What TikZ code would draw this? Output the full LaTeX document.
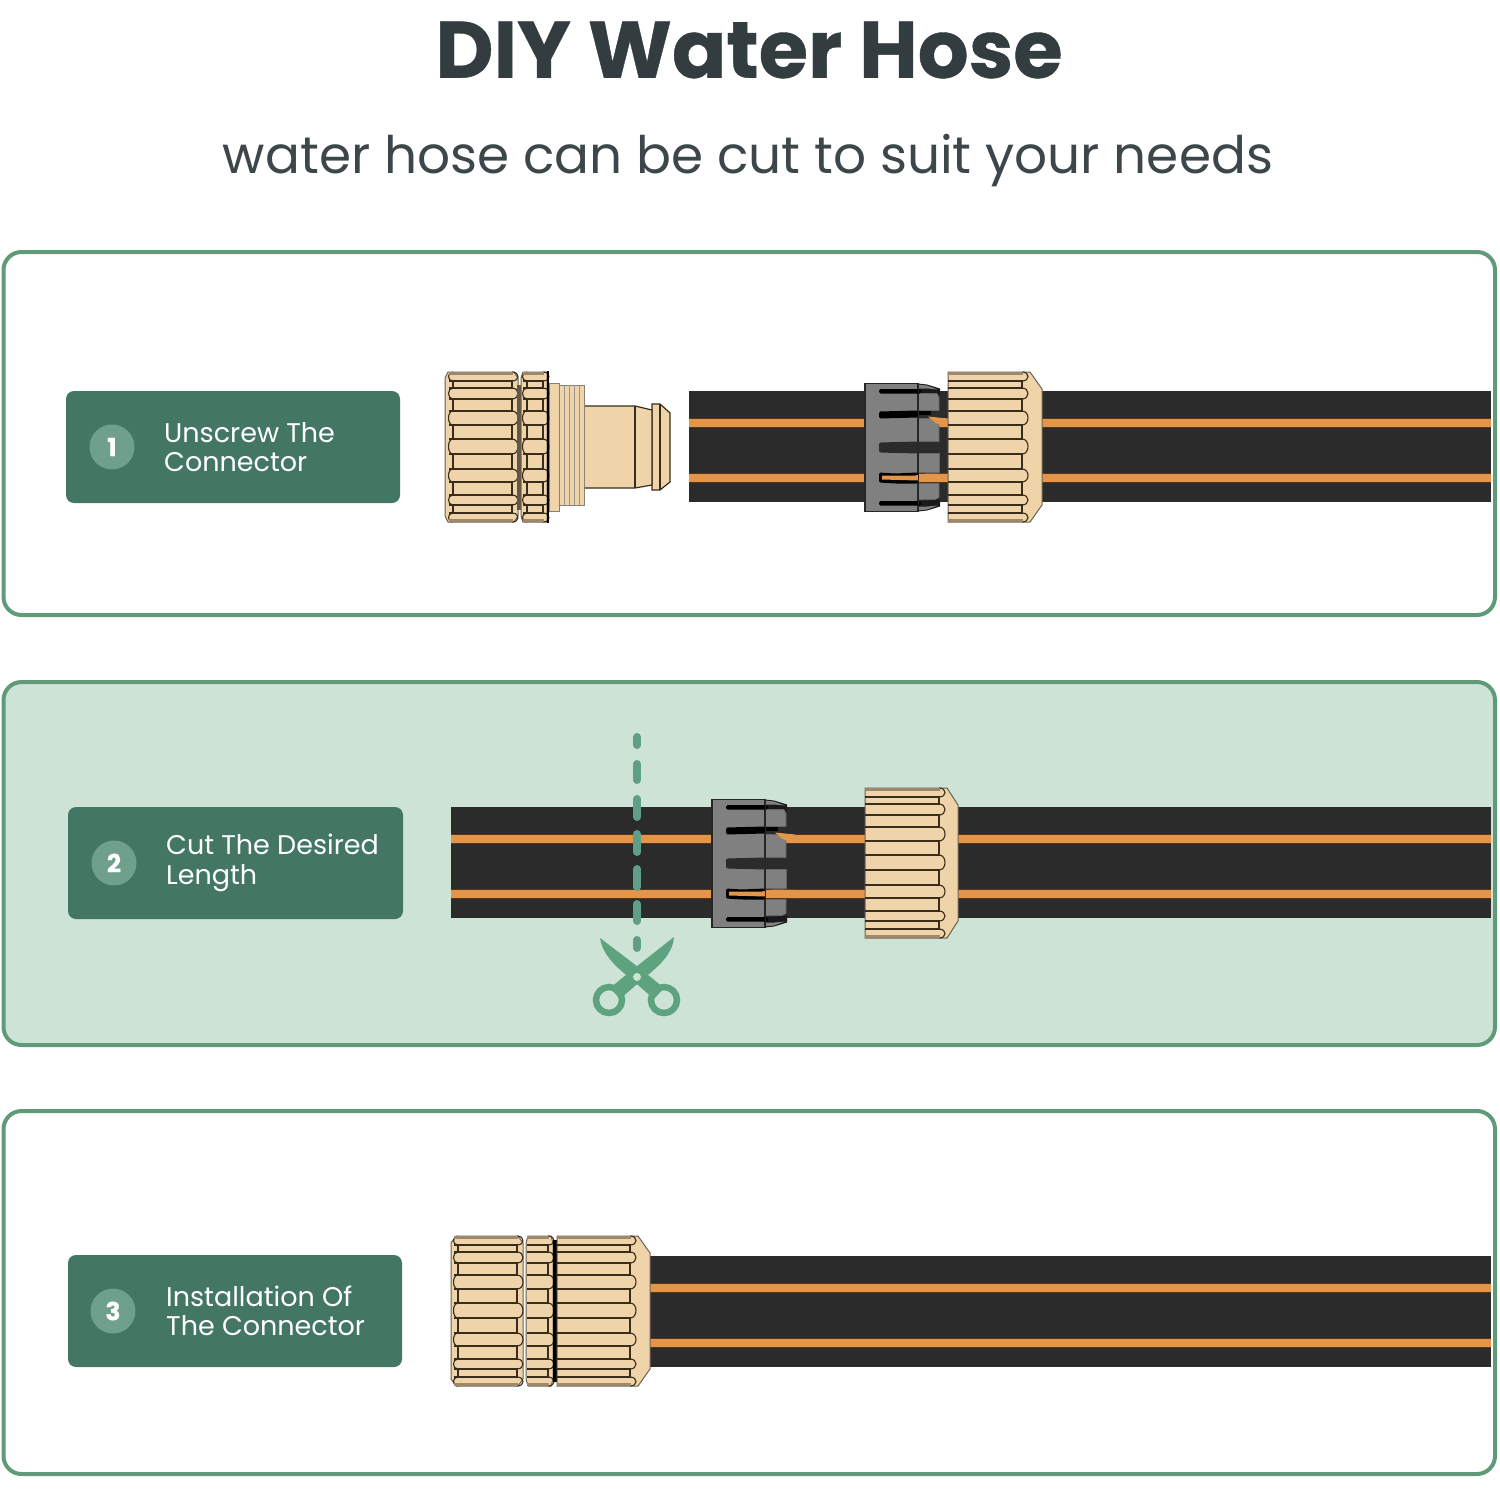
\documentclass[tikz,border=0pt]{standalone}
\usepackage{fontspec}
\setmainfont{Poppins}[BoldFeatures={FakeBold=0.5}]
\definecolor{frameGreen}{HTML}{5F9B78}
\definecolor{panelTint}{HTML}{CDE3D6}
\definecolor{labelGreen}{HTML}{437764}
\definecolor{badgeGreen}{HTML}{6FA08C}
\definecolor{brass}{HTML}{EFD3A9}
\definecolor{ribLine}{HTML}{3A2C1A}
\definecolor{hoseBlack}{HTML}{2B2B2B}
\definecolor{stripe}{HTML}{E3954A}
\definecolor{stripeEdge}{HTML}{5A3413}
\definecolor{clampGrey}{HTML}{808080}
\definecolor{cutGreen}{HTML}{5FA27F}
\definecolor{dashGreen}{HTML}{5F9F88}
\definecolor{titleInk}{HTML}{333D40}
\tikzset{
  panel/.style={draw=frameGreen,line width=4pt,rounded corners=18pt},
  labelbox/.style={fill=labelGreen,rounded corners=8pt},
  badge/.style={circle,fill=badgeGreen,minimum size=45pt,inner sep=0pt,text=white,font=\bfseries\fontsize{25}{25}\selectfont},
  labeltext/.style={anchor=west,text=white,align=left,inner sep=0pt,font=\fontsize{27}{29.5}\selectfont},
  rib/.style={draw=ribLine,line width=1.7pt},
  ribend/.style={draw=ribLine,line width=1.1pt},
  outline/.style={draw=ribLine!75,line width=1pt,fill=brass},
  clampline/.style={draw=black!85,line width=1.1pt},
  cutdash/.style={draw=dashGreen,line width=8pt,line cap=round},
}
% flat hose with its two orange stripes: x1, x2, top edge
\newcommand{\hosepiece}[3]{%
  \fill[hoseBlack] (#1,#3) rectangle (#2,{#3+111});
  \foreach \s in {32,87}{
    \fill[stripeEdge] (#1,{#3+\s-5}) rectangle (#2,{#3+\s+5});
    \fill[stripe] (#1,{#3+\s-4}) rectangle (#2,{#3+\s+4});
  }%
}
% knurled bands of a nut: x1, x2, centre line, and 1 when the left ends bulge too
\newcommand{\knurl}[4]{%
  \foreach \a/\b in {-66/-59,-48/-36,-22/-8,7/22,35/48,58/66}{
    \draw[ribend] ({#2-4},{#3+\a}) -- ({#2-4},{#3+\b});
    \ifnum#4=1 \draw[ribend] ({#1+4},{#3+\a}) -- ({#1+4},{#3+\b});\fi
  }
  \foreach \a/\b in {-66/-59,-48/-36,-22/-8,7/22,35/48,58/66}{
    \draw[rib] (#1,{#3+\a}) -- ({#2-3},{#3+\a});
    \draw[rib] (#1,{#3+\b}) -- ({#2-3},{#3+\b});
  }
  \foreach \a/\b in {-75/-66,-59/-48,-36/-22,-8/7,22/35,48/58,66/75}{
    \fill[brass] ({#1+2},{#3+\a+1}) rectangle ({#2-3},{#3+\b-1});
    \draw[ribend] ({#2-4},{#3+\a}) .. controls ({#2+4},{#3+\a}) and ({#2+4},{#3+\b}) .. ({#2-4},{#3+\b});
    \ifnum#4=1 \draw[ribend] ({#1+4},{#3+\a}) .. controls ({#1-2},{#3+\a}) and ({#1-2},{#3+\b}) .. ({#1+4},{#3+\b});\fi
  }
  \fill[ribLine!45!brass] (#1,{#3-75}) rectangle ({#2-3},{#3-72});
  \fill[ribLine!45!brass] (#1,{#3+72}) rectangle ({#2-3},{#3+75});%
}
% nut with a chamfered shoulder on its right: x1, ribs end, x2, centre line
\newcommand{\chamfernut}[4]{%
  \draw[outline] (#1,{#4-75}) -- ({#2+4},{#4-75}) -- (#3,{#4-58}) -- (#3,{#4+58}) -- ({#2+4},{#4+75}) -- (#1,{#4+75}) -- cycle;
  \knurl{#1}{#2}{#4}{0}%
}
% grey clamp ring around a hose, origin at its left edge on the centre line
\newcommand{\clamp}[2]{%
  \begin{scope}[shift={(#1,#2)}]
    % fingers
    \fill[black!90] (53,-64) -- (62,-63) -- (75,-59) -- (75,-52) -- (53,-54) -- cycle;
    \fill[black!90] (53,64) -- (62,63) -- (75,59) -- (75,52) -- (53,54) -- cycle;
    \fill[clampGrey] (53,-63) -- (62,-62) -- (73,-58) -- (62,-59) -- (53,-59) -- cycle;
    \fill[clampGrey] (53,63) -- (62,62) -- (73,58) -- (62,59) -- (53,59) -- cycle;
    \fill[clampGrey,draw=black!60,line width=.6pt] (53,-54) -- (72,-54) -- (74,-50) -- (74,-37) -- (53,-37) -- cycle;
    \fill[clampGrey,draw=black!60,line width=.6pt] (53,-29) -- (72,-29) -- (74,-26) -- (74,-6) -- (53,-6) -- cycle;
    \fill[clampGrey,draw=black!60,line width=.6pt] (53,6) -- (74,6) -- (74,25) -- (53,25) -- cycle;
    \fill[clampGrey,draw=black!60,line width=.6pt] (53,36) -- (74,36) -- (74,50) -- (70,52) -- (53,52) -- cycle;
    \fill[black] (53,-37) rectangle (66,-33);
    \fill[stripe] (63,-31) -- (83,-29) -- (83,-21) -- (74,-23) -- (70,-25) -- cycle;
    % collar with its slots
    \draw[clampline,fill=clampGrey] (0,-64) -- (53,-64) -- (53,64) -- (0,64) -- cycle;
    \fill[black,rounded corners=1.5pt] (14,-58.5) rectangle (56,-54);
    \fill[black,rounded corners=1.5pt] (14,-36) -- (53,-37) -- (53,-30) -- (14,-29) -- cycle;
    \fill[hoseBlack,rounded corners=2pt] (14,-5) -- (53,-6) -- (53,6) -- (14,5) -- cycle;
    \fill[black,rounded corners=1.5pt] (14,25) -- (30,26) -- (53,25) -- (53,36) -- (30,36) -- (14,35) -- cycle;
    \fill[stripe] (17,28) -- (50,28) -- (62,26) -- (83,26.5) -- (83,34.5) -- (72,34) -- (53,33) -- (17,32) -- cycle;
    \fill[black,rounded corners=1.5pt] (14,53.5) rectangle (56,58);
    \draw[black!85,line width=1pt] (53,-64) -- (53,64);
  \end{scope}%
}
\begin{document}
\begin{tikzpicture}[x=1pt,y=-1pt]
\useasboundingbox (0,0) rectangle (1500,1500);
\fill[white] (0,0) rectangle (1500,1500);

% headings
\node[text=titleInk,font=\bfseries\fontsize{80}{80}\selectfont,inner sep=0pt] (title) at (749,50) {DIY Water Hose};
\node[text=titleInk!95,font=\fontsize{51.7}{52}\selectfont,inner sep=0pt] (subtitle) at (748,160) {water hose can be cut to suit your needs};

% panels
\draw[panel] (3.5,252) rectangle (1495,615);
\draw[panel,fill=panelTint] (3.5,682) rectangle (1495,1045);
\draw[panel] (3.5,1111) rectangle (1495,1474);

% step labels
\fill[labelbox] (66,391) rectangle (400,503);
\node[badge] (b1) at (112,447) {1};
\node[labeltext] (t1) at (164,447) {Unscrew The\\Connector};
\fill[labelbox] (68,807) rectangle (403,919);
\node[badge] (b2) at (114,863) {2};
\node[labeltext] (t2) at (166,863) {Cut The Desired\\Length};
\fill[labelbox] (68,1255) rectangle (402,1367);
\node[badge] (b3) at (113,1311) {3};
\node[labeltext] (t3) at (166,1311) {Installation Of\\The Connector};

% step 1: unscrewed connector
\draw[outline,draw=ribLine,line width=1.2pt] (652,404) -- (660,404) -- (670,413) -- (670,482) -- (660,490) -- (652,490) -- cycle;
\draw[ribLine,line width=1.2pt] (660,404) -- (660,490);
\draw[outline,draw=ribLine,line width=1.2pt] (584,406) -- (635,406) -- (652,410) -- (652,485) -- (635,488) -- (584,488) -- cycle;
\draw[ribLine,line width=1.2pt] (635,406) -- (635,488);
\fill[brass] (559,385) rectangle (584,505);
\draw[ribLine!60,line width=.8pt] (559,385) rectangle (584,505);
\foreach \x in {564,569,574,579}{\draw[ribLine!50,line width=.6pt] (\x,385) -- (\x,505);}
\fill[brass] (549,383) rectangle (559,511);
\draw[ribLine!60,line width=.8pt] (549,383) rectangle (559,511);
\draw[outline] (448,372) -- (514,372) -- (518,378) -- (518,516) -- (514,522) -- (448,522) -- (445,516) -- (445,378) -- cycle;
\knurl{449}{516}{447}{1}
\fill[ribLine!80] (517,385) rectangle (521,510);
\draw[outline] (523,372) -- (547,372) -- (547,522) -- (523,522) -- (521,516) -- (521,378) -- cycle;
\knurl{523}{547}{447}{1}
\draw[black,line width=2pt] (548,371) -- (548,523);

\hosepiece{689}{1491}{391}
\clamp{865}{447.5}
\chamfernut{948}{1026}{1042}{447}

% step 2: hose with loose clamp and nut
\hosepiece{451}{1491}{807}
\clamp{712}{863.5}
\chamfernut{865}{943}{958}{863}
\foreach \a/\b in {733/749,760/784,795/821,830/856,865/891,900/925,936/952}{
  \draw[cutdash] (637,\a+4) -- (637,\b-4);
}
% scissors: each blade runs through the pivot into the opposite handle
\fill[cutGreen] (600,938) -- (642,970) -- (664,988) -- (654,999) -- (630,978) .. controls (612,964) and (602,952) .. (600,938) -- cycle;
\fill[cutGreen] (674,937) -- (632,970) -- (610,988) -- (620,999) -- (644,978) .. controls (662,964) and (673,952) .. (674,937) -- cycle;
\draw[cutGreen,line width=6.5pt] (609,1000) circle (13);
\draw[cutGreen,line width=6.5pt] (664,1000) circle (13);
\fill[panelTint] (637,977) circle (4);

% step 3: connector fitted
\hosepiece{650}{1491}{1256}
\draw[outline] (456,1236) -- (518,1236) -- (523,1243) -- (523,1379) -- (518,1386) -- (456,1386) -- (451,1379) -- (451,1243) -- cycle;
\knurl{454}{521}{1311}{1}
\draw[outline] (528,1236) -- (551,1236) -- (553,1243) -- (553,1379) -- (551,1386) -- (528,1386) -- (526,1379) -- (526,1243) -- cycle;
\knurl{527}{552}{1311}{0}
\fill[black] (553,1240) rectangle (557,1382);
\chamfernut{557}{634}{650}{1311}
\end{tikzpicture}
\end{document}
